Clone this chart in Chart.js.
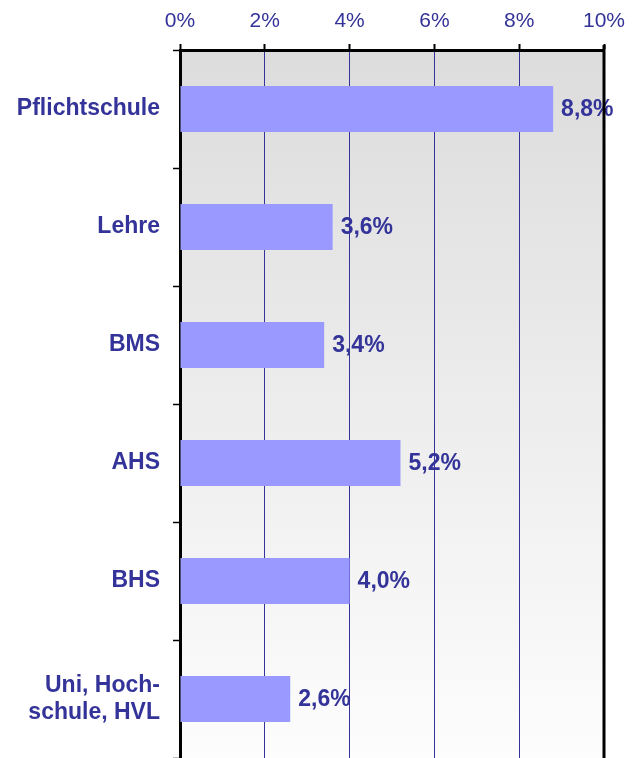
<!DOCTYPE html>
<html>
<head>
<meta charset="utf-8">
<script src="https://cdn.jsdelivr.net/npm/chart.js@4.4.1/dist/chart.umd.min.js"></script>
<style>
  html, body { margin: 0; padding: 0; background: #fff; }
  #wrap { width: 640px; height: 758px; }
</style>
</head>
<body>
<div id="wrap"><canvas id="barChart"></canvas></div>
<script>
// Daten
const categories = ['Pflichtschule', 'Lehre', 'BMS', 'AHS', 'BHS', ['Uni, Hoch-', 'schule, HVL']];
const values = [8.8, 3.6, 3.4, 5.2, 4.0, 2.6];
const tickValues = [0, 2, 4, 6, 8, 10];

const textColor = '#333399';

// Hintergrund mit Verlauf im Plotbereich + rechter Rand
const plotBackground = {
    id: 'plotBackground',
    beforeDraw(chart) {
        const { ctx, chartArea: a } = chart;
        const g = ctx.createLinearGradient(0, a.top, 0, a.bottom);
        g.addColorStop(0, '#dcdcdc');
        g.addColorStop(1, '#fdfdfd');
        ctx.save();
        ctx.fillStyle = g;
        ctx.fillRect(a.left, a.top, a.right - a.left, a.bottom - a.top);
        ctx.restore();
    },
    afterDraw(chart) {
        const { ctx, chartArea: a } = chart;
        ctx.save();
        ctx.strokeStyle = '#000';
        ctx.lineWidth = 3;
        ctx.beginPath();
        ctx.moveTo(a.right, a.top - 5);
        ctx.lineTo(a.right, a.bottom + 5);
        ctx.stroke();
        ctx.restore();
    }
};

// Werte neben den Balken
const valueLabels = {
    id: 'valueLabels',
    afterDatasetsDraw(chart) {
        const { ctx } = chart;
        const meta = chart.getDatasetMeta(0);
        ctx.save();
        ctx.fillStyle = textColor;
        ctx.font = 'bold 23px "Liberation Sans", Arial, sans-serif';
        ctx.textAlign = 'left';
        ctx.textBaseline = 'middle';
        meta.data.forEach((bar, i) => {
            const txt = values[i].toFixed(1).replace('.', ',') + '%';
            ctx.fillText(txt, bar.x + 8, bar.y + 1);
        });
        ctx.restore();
    }
};

new Chart(document.getElementById('barChart'), {
    type: 'bar',
    data: {
        labels: categories,
        datasets: [{
            data: values,
            backgroundColor: '#9999ff',
            borderWidth: 0,
            categoryPercentage: 0.39,
            barPercentage: 1.0,
        }],
    },
    options: {
        indexAxis: 'y',
        responsive: true,
        maintainAspectRatio: false,
        animation: false,
        layout: { padding: { top: 0, right: 36, bottom: 0, left: 0 } },
        plugins: {
            legend: { display: false },
            tooltip: { enabled: false },
        },
        scales: {
            x: {
                position: 'top',
                min: 0,
                max: 10,
                afterBuildTicks(axis) {
                    axis.ticks = tickValues.map((v) => ({ value: v }));
                },
                afterFit(axis) { axis.height = 50; },
                ticks: {
                    color: textColor,
                    font: { family: '"Liberation Sans", Arial, sans-serif', size: 21 },
                    padding: 10,
                    maxRotation: 0,
                    callback: (v) => v + '%',
                },
                grid: {
                    color: textColor,
                    lineWidth: 1,
                    tickColor: '#000',
                    tickLength: 6,
                    tickWidth: 2,
                },
                border: { display: true, color: '#000', width: 3 },
            },
            y: {
                afterFit(axis) {
                    axis.width = 180;
                    axis.paddingTop = 0;
                    axis.paddingBottom = 0;
                },
                ticks: {
                    color: textColor,
                    font: { family: '"Liberation Sans", Arial, sans-serif', size: 23, weight: 'bold' },
                    padding: 13,
                },
                grid: {
                    offset: true,
                    drawOnChartArea: false,
                    tickColor: '#000',
                    tickLength: 7,
                    tickWidth: 1.5,
                },
                border: { display: true, color: '#000', width: 3 },
            },
        },
    },
    plugins: [plotBackground, valueLabels],
});
</script>
</body>
</html>
